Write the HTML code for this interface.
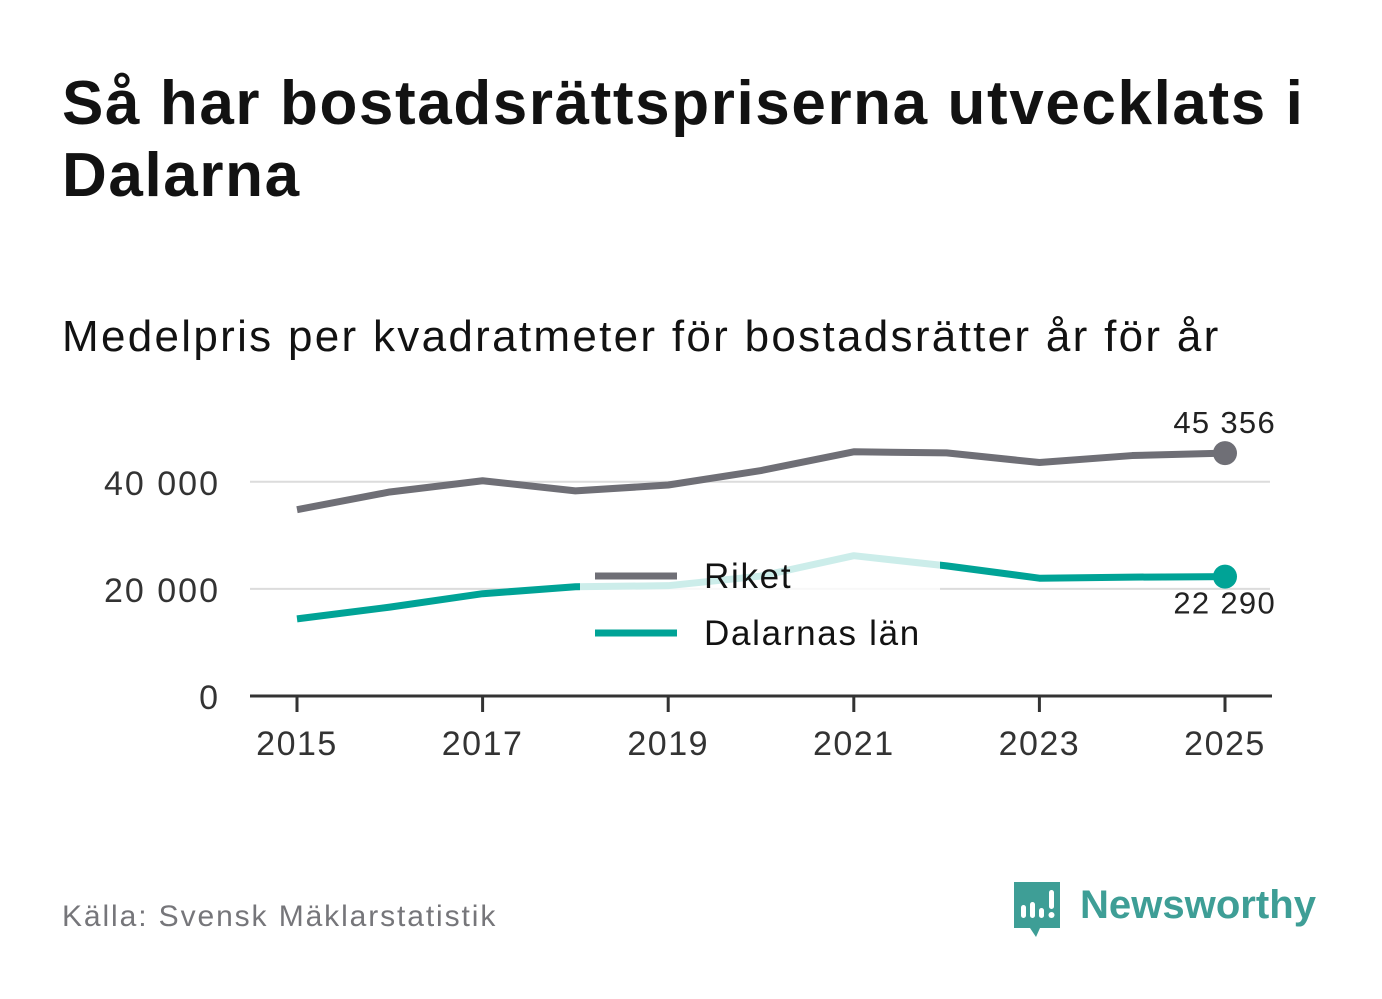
<!DOCTYPE html>
<html><head><meta charset="utf-8"><style>
body{margin:0;background:#fff;font-family:"Liberation Sans","DejaVu Sans",sans-serif;}
#wrap{position:relative;width:1382px;height:999px;overflow:hidden;}
h1{position:absolute;left:62px;top:68px;margin:0;font-size:62px;line-height:72px;font-weight:bold;color:#121212;width:1300px;letter-spacing:1.6px}
.sub{position:absolute;left:62px;top:312px;font-size:44px;color:#121212;letter-spacing:2.3px;white-space:nowrap}
.src{position:absolute;left:62px;top:900px;font-size:30px;color:#76767a;letter-spacing:1.9px}
</style></head><body>
<div id="wrap">
<h1>Så har bostadsrättspriserna utvecklats i Dalarna</h1>
<div class="sub">Medelpris per kvadratmeter för bostadsrätter år för år</div>
<svg id="chart" width="1382" height="999" style="position:absolute;left:0;top:0"></svg>
<div class="src">Källa: Svensk Mäklarstatistik</div>
<div style="position:absolute;left:1012px;top:880px;">
<svg width="340" height="62" style="position:absolute;left:0;top:0">
<path d="M2 2 H48 V48 H28 L24 57 L18 48 H2 Z" fill="#3e9e96"/>
<rect x="9" y="25" width="5" height="13" rx="2.5" fill="#fff"/>
<rect x="18" y="22" width="5" height="16" rx="2.5" fill="#fff"/>
<rect x="27" y="28" width="5" height="10" rx="2.5" fill="#fff"/>
<rect x="37" y="10" width="5" height="19" rx="2.5" fill="#fff"/>
<circle cx="39.5" cy="35" r="3" fill="#fff"/>
<text x="68" y="38" font-size="40" font-weight="bold" fill="#3e9e96" font-family="Liberation Sans, sans-serif" textLength="236" lengthAdjust="spacingAndGlyphs">Newsworthy</text>
</svg></div>
</div>
<script>
const years=[2015,2016,2017,2018,2019,2020,2021,2022,2023,2024,2025];
const riket=[34800,38100,40200,38300,39400,42100,45600,45400,43600,44900,45356];
const dalarna=[14400,16600,19100,20400,20600,22400,26200,24300,22000,22200,22290];
const yTicks=[0,20000,40000];
const yTickLabels=["0","20 000","40 000"];
const xTicks=[2015,2017,2019,2021,2023,2025];
const ns="http://www.w3.org/2000/svg";
const svg=document.getElementById('chart');
const x=v=>297+(v-2015)*92.8;
const y=v=>696-v*0.005355;
function el(t,a){const e=document.createElementNS(ns,t);for(const k in a)e.setAttribute(k,a[k]);svg.appendChild(e);return e;}
yTicks.forEach((t,i)=>{
 if(t>0){const g=el('line',{x1:250,x2:1270,y1:y(t),y2:y(t),stroke:'#dcdcdc','stroke-width':2});
 
 }
 const l=el('text',{x:220,y:y(t)+13,'text-anchor':'end','font-size':34,fill:'#333','letter-spacing':2});l.textContent=yTickLabels[i];
 
 
});
function pts(a){return a.map((v,i)=>x(years[i])+','+y(v)).join(' ');}
const lr=el('polyline',{points:pts(riket),fill:'none',stroke:'#6f6f76','stroke-width':7,'stroke-linejoin':'round'});


const ld=el('polyline',{points:pts(dalarna),fill:'none',stroke:'#00a396','stroke-width':7,'stroke-linejoin':'round'});


const halo=el('rect',{x:580,y:540,width:360,height:125,fill:'#fff','fill-opacity':0.8});


const ax=el('line',{x1:250,x2:1272,y1:696,y2:696,stroke:'#333','stroke-width':3});


xTicks.forEach(t=>{
 const tk=el('line',{x1:x(t),x2:x(t),y1:696,y2:712,stroke:'#333','stroke-width':3});
 
 
 const l=el('text',{x:x(t),y:755,'text-anchor':'middle','font-size':34,fill:'#333','letter-spacing':1.5});l.textContent=t;
 
 
});
const n=years.length-1;
const d1=el('circle',{cx:x(years[n]),cy:y(riket[n]),r:12,fill:'#6f6f76'});


const d2=el('circle',{cx:x(years[n]),cy:y(dalarna[n]),r:12,fill:'#00a396'});


const fmt=v=>String(v).replace(/\B(?=(\d{3})+(?!\d))/g,' ');
const t1=el('text',{x:1276,y:y(riket[n])-20,'text-anchor':'end','font-size':31,fill:'#222','letter-spacing':1.3});t1.textContent=fmt(riket[n]);


const t2=el('text',{x:1276,y:y(dalarna[n])+37,'text-anchor':'end','font-size':31,fill:'#222','letter-spacing':1.3});t2.textContent=fmt(dalarna[n]);


[['Riket','#6f6f76',576],['Dalarnas län','#00a396',633]].forEach(([nm,c,yy])=>{
 const s=el('line',{x1:595,x2:677,y1:yy,y2:yy,stroke:c,'stroke-width':7});
 
 
 const t=el('text',{x:704,y:yy+12,'font-size':35,fill:'#121212','letter-spacing':1.7});t.textContent=nm;
 
 
});
</script>
</body></html>
